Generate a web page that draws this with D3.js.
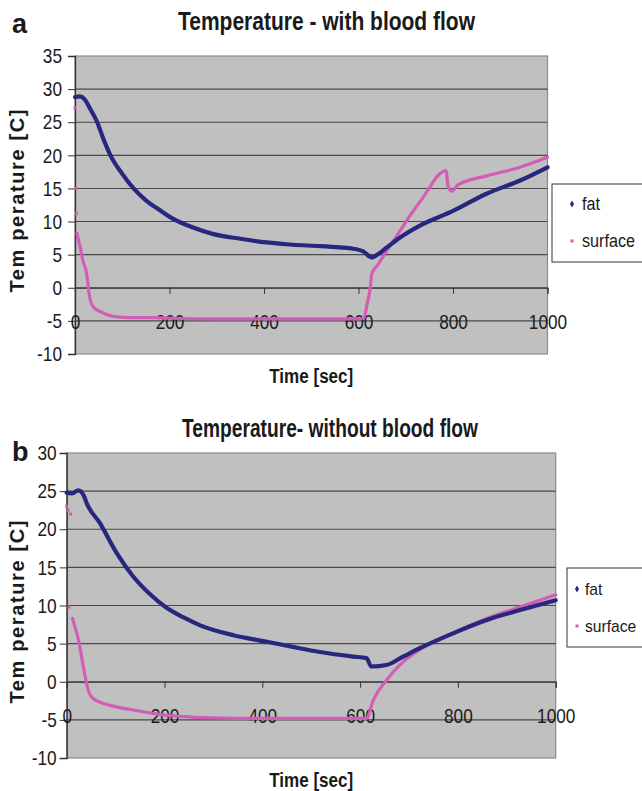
<!DOCTYPE html>
<html>
<head>
<meta charset="utf-8">
<script src="https://cdn.jsdelivr.net/npm/d3@7"></script>
<style>
  html, body { margin: 0; padding: 0; background: #fff; }
  svg { display: block; }
  text { font-family: "Liberation Sans", Arial, sans-serif; fill: #1a1a1a; }
</style>
</head>
<body>
<svg id="chart" width="642" height="791"></svg>
<script>
// ---------------- DATA ----------------
const seriesNames = ["fat", "surface"];
const xTicks = [0, 200, 400, 600, 800, 1000];
const yTicksA = [-10, -5, 0, 5, 10, 15, 20, 25, 30, 35];
const yTicksB = [-10, -5, 0, 5, 10, 15, 20, 25, 30];

// Panel a: with blood flow
const fatTimeA = [0, 10, 20, 30, 47, 60, 75, 100, 124, 150, 180, 208, 250, 293, 350, 406, 460, 519, 560, 589, 610, 628, 640, 660, 688, 730, 800, 871, 942, 1000];
const fatTempA = [28.8, 28.9, 28.5, 27.3, 25, 22.5, 20, 17.2, 15, 13.2, 11.7, 10.4, 9.1, 8.1, 7.4, 6.85, 6.5, 6.3, 6.1, 5.9, 5.5, 4.6, 5.0, 6.1, 7.6, 9.4, 11.6, 14.2, 16.2, 18.2];

const surfTimeA = [4, 8, 12, 15, 18, 22, 26, 29, 33, 40, 54, 70, 89, 120, 160, 200, 300, 400, 500, 600, 612, 618, 625, 628, 640, 660, 688, 716, 740, 751, 765, 785, 790, 797, 810, 871, 942, 1000];
const surfTempA = [8.2, 7.0, 5.8, 4.6, 3.8, 3.0, 1.5, -0.5, -2.0, -3.0, -3.6, -4.1, -4.4, -4.5, -4.5, -4.6, -4.7, -4.7, -4.7, -4.7, -4.5, -2.5, 0, 2.1, 3.4, 5.6, 8.6, 11.6, 14.0, 15.2, 16.7, 17.7, 15.2, 14.6, 15.5, 16.9, 18.2, 19.7];
const surfStrayTimeA = [0, 2, 3];
const surfStrayTempA = [27.2, 15, 11.2];

// Panel b: without blood flow
const fatTimeB = [0, 10, 24, 35, 41, 68, 102, 136, 170, 204, 240, 273, 341, 409, 460, 518, 586, 613, 623, 654, 688, 722, 790, 859, 927, 1000];
const fatTempB = [24.8, 24.7, 25.1, 24.4, 23.4, 20.8, 16.9, 13.8, 11.5, 9.7, 8.4, 7.4, 6.1, 5.25, 4.6, 3.9, 3.3, 3.1, 2.0, 2.2, 3.3, 4.4, 6.35, 8.1, 9.4, 10.7];

const surfTimeB = [12, 17, 24, 34, 44, 54, 89, 136, 204, 341, 500, 613, 627, 654, 688, 722, 790, 859, 927, 1000];
const surfTempB = [8.3, 7.2, 5.5, 2.0, -1.1, -2.2, -3.1, -3.7, -4.4, -4.8, -4.8, -4.8, -2.4, 0.2, 2.6, 4.2, 6.4, 8.3, 9.8, 11.4];
const surfStrayTimeB = [0, 3, 8, 5];
const surfStrayTempB = [23, 22.5, 22, 9.8];

const titles = ["Temperature - with blood flow", "Temperature- without blood flow"];
const panelLetters = ["a", "b"];
const xTitle = "Time [sec]";
const yTitle = "Tem perature [C]";

// ---------------- STYLE / LAYOUT ----------------
const colors = { fat: "#27277f", surface: "#d35cb6" };
const svg = d3.select("#chart");

const zip = (xs, ys) => xs.map((x, i) => ({ t: x, v: ys[i] }));

// emulate a narrow (condensed) face by compressing the glyphs horizontally
function narrow(sel, k = 0.82) {
  sel.each(function () {
    const w = this.getComputedTextLength();
    this.setAttribute("textLength", (w * k).toFixed(1));
    this.setAttribute("lengthAdjust", "spacingAndGlyphs");
  });
}

function drawPanel(cfg) {
  const x = d3.scaleLinear().domain([0, 1000]).range([cfg.left, cfg.right]);
  const y = d3.scaleLinear().domain([-10, cfg.yMax]).range([cfg.bottom, cfg.top]);
  const g = svg.append("g");

  // plot area
  g.append("rect")
    .attr("x", cfg.left).attr("y", cfg.top)
    .attr("width", cfg.right - cfg.left).attr("height", cfg.bottom - cfg.top)
    .attr("fill", "#c0c0c0").attr("stroke", "#8a8a8a").attr("stroke-width", 1.2);

  // gridlines
  g.append("g").selectAll("line").data(cfg.yTicks.filter(d => d !== -10 && d !== cfg.yMax)).join("line")
    .attr("x1", cfg.left).attr("x2", cfg.right)
    .attr("y1", d => y(d)).attr("y2", d => y(d))
    .attr("stroke", "#4a4a4a").attr("stroke-width", 1.1);

  // y axis
  const yAxis = d3.axisLeft(y).tickValues(cfg.yTicks).tickSize(7).tickPadding(cfg.yPad).tickFormat(d => String(d));
  const ya = g.append("g").attr("transform", `translate(${cfg.left},0)`).call(yAxis);
  ya.select(".domain").attr("stroke", "#333").attr("stroke-width", 1.3);
  ya.selectAll(".tick line").attr("stroke", "#333");
  ya.selectAll(".tick text").attr("font-size", 21).attr("fill", "#1a1a1a")
    .style("font-family", '"Liberation Sans", Arial, sans-serif').call(narrow);

  // x axis at y=0
  const xAxis = d3.axisBottom(x).tickValues(xTicks).tickSize(6).tickPadding(0).tickFormat(d => String(d));
  const xa = g.append("g").attr("transform", `translate(0,${y(0)})`).call(xAxis);
  xa.select(".domain").attr("stroke", "#333").attr("stroke-width", 1.1);
  xa.selectAll(".tick line").attr("stroke", "#333");
  xa.selectAll(".tick text").attr("font-size", 21).attr("fill", "#1a1a1a")
    .attr("dy", null).attr("y", 41)
    .style("font-family", '"Liberation Sans", Arial, sans-serif').call(narrow);

  // series
  const line = d3.line().x(d => x(d.t)).y(d => y(d.v)).curve(d3.curveMonotoneX);
  g.append("path").datum(cfg.surf).attr("d", line)
    .attr("fill", "none").attr("stroke", colors.surface).attr("stroke-width", 3.2)
    .attr("stroke-linejoin", "round").attr("stroke-linecap", "round");
  g.append("g").selectAll("rect").data(cfg.stray).join("rect")
    .attr("x", d => x(d.t) - 1.5).attr("y", d => y(d.v) - 1.5)
    .attr("width", 3).attr("height", 3).attr("fill", colors.surface);
  g.append("path").datum(cfg.fat).attr("d", line)
    .attr("fill", "none").attr("stroke", colors.fat).attr("stroke-width", 4.2)
    .attr("stroke-linejoin", "round").attr("stroke-linecap", "round");

  // titles
  g.append("text").attr("x", cfg.titleX).attr("y", cfg.titleY)
    .attr("text-anchor", "middle").attr("font-size", 25).attr("font-weight", "bold")
    .attr("textLength", cfg.titleLen).attr("lengthAdjust", "spacingAndGlyphs")
    .text(cfg.title);
  g.append("text").attr("x", cfg.letterX).attr("y", cfg.letterY)
    .attr("font-size", 27).attr("font-weight", "bold")
    .text(cfg.letter);
  g.append("text").attr("x", (cfg.left + cfg.right) / 2).attr("y", cfg.xTitleY)
    .attr("text-anchor", "middle").attr("font-size", 20).attr("font-weight", "bold")
    .attr("textLength", 84).attr("lengthAdjust", "spacingAndGlyphs")
    .text(xTitle);
  g.append("text")
    .attr("transform", `translate(${cfg.yTitleX},${cfg.yTitleY}) rotate(-90)`)
    .attr("text-anchor", "middle").attr("font-size", 20).attr("font-weight", "bold")
    .attr("textLength", 183).attr("lengthAdjust", "spacing")
    .text(yTitle);

  // legend (box runs off the right edge, as in the source figure)
  const lg = g.append("g");
  lg.append("rect").attr("x", cfg.legX).attr("y", cfg.legY).attr("width", 110).attr("height", cfg.legH)
    .attr("fill", "#fff").attr("stroke", "#333").attr("stroke-width", 1);
  seriesNames.forEach((name, i) => {
    const by = cfg.legY + cfg.legRow0 + i * cfg.legStep;
    if (name === "fat") {
      lg.append("path").attr("d", d3.symbol(d3.symbolDiamond, 14)())
        .attr("transform", `translate(${cfg.legX + cfg.legMark},${by - 6})`).attr("fill", colors.fat);
    } else {
      lg.append("rect").attr("x", cfg.legX + cfg.legMark - 1.5).attr("y", by - 7.5)
        .attr("width", 3).attr("height", 3).attr("fill", colors.surface);
    }
    lg.append("text").attr("x", cfg.legX + cfg.legText).attr("y", by)
      .attr("font-size", cfg.legFont).text(name).call(narrow, cfg.legK);
  });
}

drawPanel({
  left: 75, right: 547.5, top: 56, bottom: 354, yMax: 35, yTicks: yTicksA, yPad: 6,
  fat: zip(fatTimeA, fatTempA), surf: zip(surfTimeA, surfTempA), stray: zip(surfStrayTimeA, surfStrayTempA),
  title: titles[0], titleX: 326.5, titleY: 30, titleLen: 297,
  letter: panelLetters[0], letterX: 12, letterY: 33,
  xTitleY: 383, yTitleX: 24, yTitleY: 201,
  legX: 552, legY: 184, legH: 78, legRow0: 26, legStep: 37, legMark: 20, legText: 30,
  legFont: 18, legK: 0.9
});

drawPanel({
  left: 66.7, right: 555.7, top: 453, bottom: 758, yMax: 30, yTicks: yTicksB, yPad: 3,
  fat: zip(fatTimeB, fatTempB), surf: zip(surfTimeB, surfTempB), stray: zip(surfStrayTimeB, surfStrayTempB),
  title: titles[1], titleX: 330, titleY: 437, titleLen: 296,
  letter: panelLetters[1], letterX: 12, letterY: 461,
  xTitleY: 787, yTitleX: 24, yTitleY: 612,
  legX: 567, legY: 568, legH: 79, legRow0: 27, legStep: 37, legMark: 10, legText: 18,
  legFont: 17, legK: 0.92
});
</script>
</body>
</html>
